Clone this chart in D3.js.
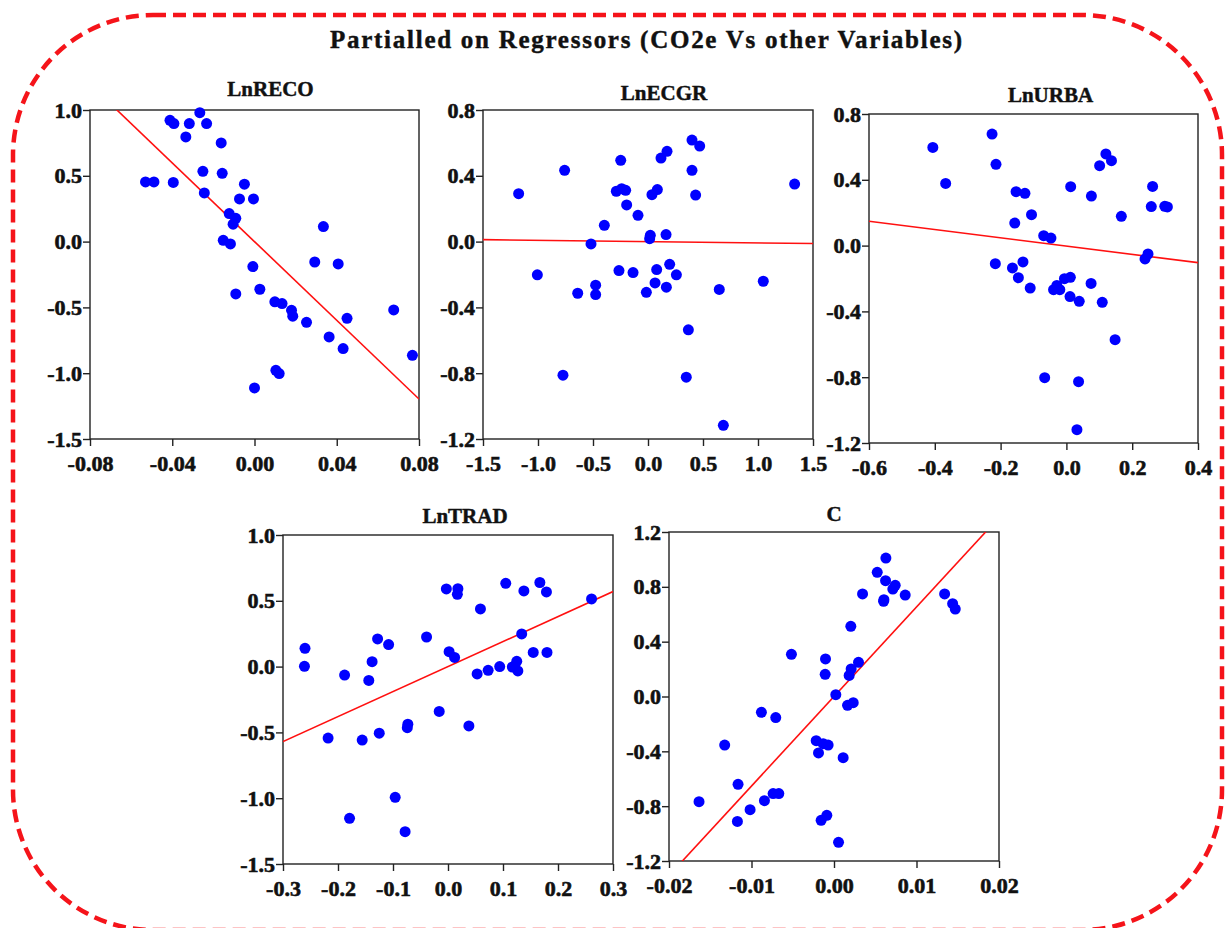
<!DOCTYPE html>
<html>
<head>
<meta charset="utf-8">
<script src="https://cdn.jsdelivr.net/npm/d3@7"></script>
<style>
  html, body { margin: 0; padding: 0; background: #fff; }
  svg { display: block; }
  text { font-family: "Liberation Serif", "Times New Roman", serif; font-weight: bold; fill: #111; stroke: #111; stroke-width: 0.45px; }
</style>
</head>
<body>
<script>
const width = 1226;
const height = 928;

const chartTitle = "Partialled on Regressors (CO2e Vs other Variables)";
const panelTitles = ["LnRECO", "LnECGR", "LnURBA", "LnTRAD", "C"];

// partial residuals, x = regressor, y = CO2e
const recoX = [-0.0530, -0.0489, -0.0395, -0.0411, -0.0392, -0.0317, -0.0334, -0.0266, -0.0233, -0.0251,
  -0.0244, -0.0162, -0.0157, -0.0049, -0.0073, -0.0005, -0.0123, -0.0091, -0.0104, -0.0152,
  -0.0117, -0.0008, -0.0091, 0.0026, 0.0099, 0.0134, 0.0180, 0.0186, 0.0253, 0.0293,
  0.0335, 0.0407, 0.0450, 0.0363, 0.0431, 0.0104, 0.0120, 0.0000, 0.0677, 0.0768];
const recoY = [0.453, 0.453, 0.450, 0.922, 0.897, 0.897, 0.795, 0.980, 0.897, 0.534,
  0.370, 0.750, 0.519, 0.436, 0.324, 0.324, 0.213, 0.177, 0.132, 0.010,
  -0.018, -0.190, -0.398, -0.362, -0.458, -0.471, -0.522, -0.567, -0.613, -0.155,
  0.114, -0.170, -0.583, -0.724, -0.813, -0.978, -1.003, -1.112, -0.519, -0.864];

const ecgrX = [-1.176, -1.006, -0.758, -0.773, -0.639, -0.518, -0.476, -0.476, -0.397, -0.288,
  -0.239, -0.203, -0.248, -0.194, -0.264, -0.136, -0.091, -0.015, 0.015, 0.021,
  0.036, 0.085, 0.118, 0.173, 0.064, 0.079, 0.164, 0.167, 0.197, 0.258,
  0.400, 0.470, 0.400, 0.433, 0.367, 0.348, 0.648, 0.685, 1.048, 1.333];
const ecgrY = [0.291, -0.202, 0.433, -0.812, -0.314, -0.014, -0.265, -0.322, 0.099, 0.306,
  0.322, 0.312, 0.494, 0.223, -0.176, -0.188, 0.160, -0.308, 0.018, 0.038,
  0.285, 0.316, 0.508, 0.549, -0.251, -0.170, 0.043, -0.277, -0.138, -0.202,
  0.617, 0.581, 0.433, 0.283, -0.536, -0.824, -0.291, -1.117, -0.241, 0.350];

const urbaX = [-0.406, -0.367, -0.226, -0.214, -0.216, -0.153, -0.126, -0.157, -0.106, -0.164,
  -0.146, -0.132, -0.110, -0.069, -0.047, -0.039, -0.029, -0.020, -0.006, 0.012,
  0.011, 0.039, 0.013, 0.075, 0.076, 0.101, 0.120, 0.137, 0.109, 0.148,
  0.167, -0.066, 0.037, 0.032, 0.239, 0.248, 0.258, 0.262, 0.299, 0.307];
const urbaY = [0.597, 0.378, 0.678, 0.494, -0.110, 0.328, 0.318, 0.137, 0.188, -0.136,
  -0.195, -0.099, -0.258, 0.060, 0.046, -0.268, -0.242, -0.268, -0.201, -0.193,
  -0.310, -0.339, 0.358, -0.230, 0.301, 0.486, 0.557, 0.516, -0.345, -0.572,
  0.178, -0.803, -0.827, -1.119, -0.081, -0.051, 0.237, 0.360, 0.239, 0.235];

const tradX = [-0.260, -0.261, -0.218, -0.188, -0.179, -0.156, -0.144, -0.138, -0.128, -0.125,
  -0.108, -0.096, -0.078, -0.073, -0.074, -0.039, -0.016, -0.003, 0.002, 0.012,
  0.018, 0.017, 0.038, 0.053, 0.059, 0.073, 0.094, 0.105, 0.117, 0.125,
  0.127, 0.134, 0.138, 0.155, 0.167, 0.179, 0.180, 0.261];
const tradY = [0.139, 0.002, -0.543, -0.064, -1.153, -0.558, -0.105, 0.037, 0.210, -0.506,
  0.167, -0.993, -1.254, -0.438, -0.464, 0.225, -0.341, 0.590, 0.113, 0.070,
  0.592, 0.549, -0.451, -0.056, 0.438, -0.028, 0.000, 0.633, -0.003, 0.040,
  -0.033, 0.248, 0.575, 0.108, 0.639, 0.567, 0.108, 0.514];

const constX = [-0.01636, -0.01325, -0.01163, -0.01171, -0.01017, -0.00880, -0.00843, -0.00738, -0.00669, -0.00706,
  -0.00516, -0.00216, -0.00188, -0.00131, -0.00071, -0.00156, -0.00087, -0.00107, -0.00103, 0.00022,
  0.00055, 0.00111, 0.00164, 0.00233, 0.00184, 0.00208, 0.00297, 0.00204, 0.00346, 0.00524,
  0.00629, 0.00625, 0.00601, 0.00605, 0.00713, 0.00742, 0.00863, 0.01341, 0.01438, 0.01470];
const constY = [-0.767, -0.354, -0.641, -0.911, -0.826, -0.115, -0.760, -0.708, -0.708, -0.154,
  0.308, -0.322, -0.412, -0.344, -0.354, -0.903, -0.867, 0.162, 0.274, 0.013,
  -1.064, -0.446, -0.064, -0.045, 0.154, 0.201, 0.249, 0.512, 0.748, 0.906,
  1.010, 0.845, 0.694, 0.706, 0.784, 0.811, 0.740, 0.748, 0.677, 0.638];

// fitted partial regression lines
const fitSlopes = [-14.95, -0.008, -0.252, 1.9, 65.3];
const fitIntercepts = [0.0, 0.0, -0.003, 0.0, 0.0];

// axis domains and ticks
const xDomains = [[-0.08, 0.08], [-1.5, 1.5], [-0.6, 0.4], [-0.3, 0.3], [-0.02, 0.02]];
const yDomains = [[-1.5, 1.0], [-1.2, 0.8], [-1.2, 0.8], [-1.5, 1.0], [-1.2, 1.2]];
const xTicks = [
  [-0.08, -0.04, 0.00, 0.04, 0.08],
  [-1.5, -1.0, -0.5, 0.0, 0.5, 1.0, 1.5],
  [-0.6, -0.4, -0.2, 0.0, 0.2, 0.4],
  [-0.3, -0.2, -0.1, 0.0, 0.1, 0.2, 0.3],
  [-0.02, -0.01, 0.00, 0.01, 0.02]
];
const yTicks = [
  [1.0, 0.5, 0.0, -0.5, -1.0, -1.5],
  [0.8, 0.4, 0.0, -0.4, -0.8, -1.2],
  [0.8, 0.4, 0.0, -0.4, -0.8, -1.2],
  [1.0, 0.5, 0.0, -0.5, -1.0, -1.5],
  [1.2, 0.8, 0.4, 0.0, -0.4, -0.8, -1.2]
];
const xDecimals = [2, 1, 1, 1, 2];

const seriesX = [recoX, ecgrX, urbaX, tradX, constX];
const seriesY = [recoY, ecgrY, urbaY, tradY, constY];

// layout of the five panels (plot frame in pixels)
const panels = [
  { left: 90, top: 110, w: 329, h: 329, titleDx: 16, titleY: 96 },
  { left: 483, top: 110, w: 330, h: 329, titleDx: 16, titleY: 100 },
  { left: 869, top: 114, w: 329, h: 329, titleDx: 17, titleY: 102 },
  { left: 283, top: 535, w: 330, h: 329, titleDx: 17, titleY: 523 },
  { left: 669, top: 532, w: 330, h: 329, titleDx: 0, titleY: 521 }
];

const svg = d3.select("body").append("svg")
  .attr("width", width)
  .attr("height", height);

// dashed rounded frame round everything
svg.append("rect")
  .attr("x", 13)
  .attr("y", 15)
  .attr("width", 1209)
  .attr("height", 915)
  .attr("rx", 140)
  .attr("ry", 140)
  .attr("fill", "none")
  .attr("stroke", "#f5141a")
  .attr("stroke-width", 4.5)
  .attr("stroke-dasharray", "13 7");

// main title
svg.append("text")
  .attr("x", 646)
  .attr("y", 48)
  .attr("text-anchor", "middle")
  .attr("textLength", 632)
  .attr("lengthAdjust", "spacing")
  .style("font-size", "25px")
  .text(chartTitle);

panels.forEach((p, i) => {
  const g = svg.append("g").attr("transform", `translate(${p.left},${p.top})`);

  const x = d3.scaleLinear().domain(xDomains[i]).range([0, p.w]);
  const y = d3.scaleLinear().domain(yDomains[i]).range([p.h, 0]);

  // clip for the fit line
  svg.append("clipPath").attr("id", `clip${i}`)
    .append("rect").attr("width", p.w).attr("height", p.h);

  // axes
  const yAxis = g.append("g")
    .call(d3.axisLeft(y).tickValues(yTicks[i]).tickSize(7).tickSizeOuter(0).tickPadding(1)
      .tickFormat(d => d.toFixed(1)));
  const xAxis = g.append("g")
    .attr("transform", `translate(0,${p.h})`)
    .call(d3.axisBottom(x).tickValues(xTicks[i]).tickSize(7).tickSizeOuter(0).tickPadding(9)
      .tickFormat(d => d.toFixed(xDecimals[i])));

  [xAxis, yAxis].forEach(a => {
    a.attr("font-family", null).attr("font-size", null);
    a.select(".domain").remove();
    a.selectAll("line").attr("stroke", "#222").attr("stroke-width", 1.4);
    a.selectAll("text")
      .attr("fill", "#111")
      .style("font-size", "22px")
      .style("stroke-width", "0.6px");
  });

  // frame
  g.append("rect")
    .attr("width", p.w)
    .attr("height", p.h)
    .attr("fill", "none")
    .attr("stroke", "#222")
    .attr("stroke-width", 1.4);

  // fitted line
  const [x0, x1] = xDomains[i];
  const fit = [x0, x1].map(v => [v, fitIntercepts[i] + fitSlopes[i] * v]);
  g.append("path")
    .attr("clip-path", `url(#clip${i})`)
    .attr("d", d3.line().x(d => x(d[0])).y(d => y(d[1]))(fit))
    .attr("fill", "none")
    .attr("stroke", "#ff1010")
    .attr("stroke-width", 1.6);

  // points
  g.selectAll("circle")
    .data(seriesX[i].map((v, k) => [v, seriesY[i][k]]))
    .enter()
    .append("circle")
    .attr("cx", d => x(d[0]))
    .attr("cy", d => y(d[1]))
    .attr("r", 5.5)
    .attr("fill", "#0000ff");

  // panel title
  g.append("text")
    .attr("x", p.w / 2 + p.titleDx)
    .attr("y", p.titleY - p.top)
    .attr("text-anchor", "middle")
    .style("font-size", "21px")
    .text(panelTitles[i]);
});
</script>
</body>
</html>
